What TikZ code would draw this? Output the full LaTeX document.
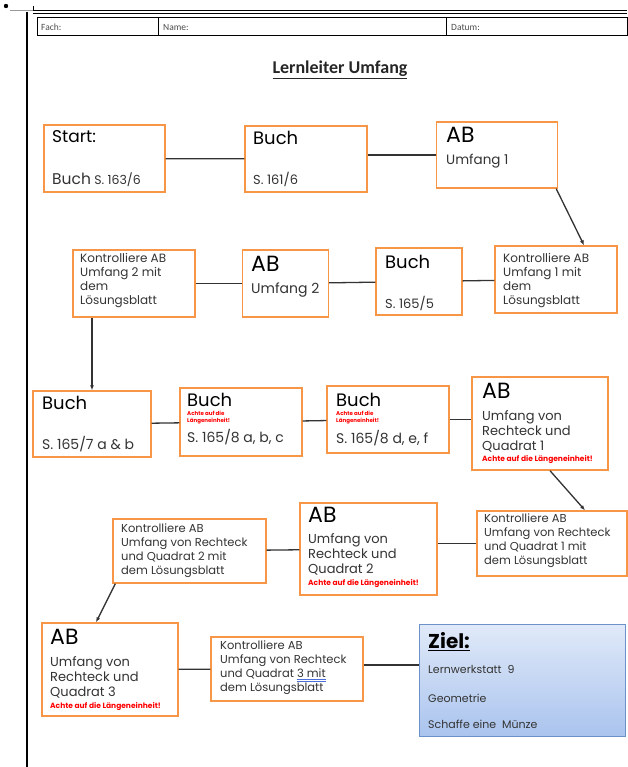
\documentclass[tikz,border=0pt]{standalone}
\usepackage{fontspec}
\setmainfont{Poppins}
\newfontfamily\calibri{Carlito}
\usetikzlibrary{arrows.meta}
\definecolor{boxorange}{HTML}{F79646}
\definecolor{goalblue}{HTML}{6D92C9}
\definecolor{goaltop}{HTML}{E0E9F8}
\definecolor{goalbottom}{HTML}{AAC4EE}
\definecolor{inkgray}{HTML}{333333}
\definecolor{markblue}{HTML}{4A6FD8}
\newcommand{\spellmark}[1]{\setbox0=\hbox{#1}\rlap{\color{markblue}\rule[-2pt]{\wd0}{0.6pt}}\rlap{\color{markblue}\rule[-3.6pt]{\wd0}{0.6pt}}\box0}
\begin{document}
\begin{tikzpicture}[
        x=1pt, y=-1pt,
        box/.style={draw=boxorange, line width=1.4pt, inner sep=0pt},
        goal/.style={draw=goalblue, line width=1pt, inner sep=0pt, top color=goaltop, bottom color=goalbottom},
        txt/.style={anchor=north west, inner sep=0pt, align=left, text=inkgray},
        hugetext/.style={txt, text=black, font=\fontsize{22}{22}\selectfont},
        bigtext/.style={txt, text=black, font=\fontsize{18}{18}\selectfont},
        midtext/.style={txt, font=\fontsize{13}{15}\selectfont},
        pagetext/.style={txt, anchor=base west, font=\fontsize{13}{13}\selectfont},
        smalltext/.style={txt, font=\fontsize{11.5}{14}\selectfont},
        warntext/.style={txt, text=red, font=\fontsize{5.5}{7}\selectfont\bfseries},
        headtext/.style={inner sep=0pt, anchor=west, font=\calibri\fontsize{9.5}{9.5}\selectfont, text=black!70},
        link/.style={draw=black!80, line width=1.3pt},
        forward/.style={link, -{Latex[length=5pt,width=4pt]}}
    ]
        \useasboundingbox (0,0) rectangle (627,767);
        % page frame and header
        \fill (6,6) circle (2.2);
        \coordinate (tick) at (33,10);
        \draw[black!40, line width=0.8pt] (10,10) -- (tick);
        \draw[line width=0.8pt] (33,6) -- (tick);
        \draw[line width=0.8pt] (tick) -- (627,10);
        \draw[line width=0.8pt] (33,13) -- (627,13);
        \draw[line width=1.4pt] (27,12) -- (27,767);
        \node[draw, line width=1pt, minimum width=590pt, minimum height=18pt, inner sep=0pt] (head) at (332.5,27) {};
        \draw[line width=1pt] (158,18) -- (158,36);
        \draw[line width=1pt] (446,18) -- (446,36);
        \node[headtext] (fach) at (41,27) {Fach:};
        \node[headtext] (name) at (163,27) {Name:};
        \node[headtext] (datum) at (451,27) {Datum:};
        \node[font=\calibri\bfseries\fontsize{18}{18}\selectfont, inner sep=0pt, text=black!85] (title) at (340,70) {\underline{Lernleiter Umfang}};
        % row 1
        \node[box, minimum width=121pt, minimum height=67pt] (start) at (104.5,158.5) {};
        \node[txt, text=black, font=\fontsize{17}{17}\selectfont] (startname) at (52,130) {Start:};
        \node[pagetext, font=\fontsize{12.5}{12.5}\selectfont] (startpage) at (52,185) {{\fontsize{15.5}{15.5}\selectfont Buch} S.~163/6};
        \node[box, minimum width=122pt, minimum height=66pt] (buch1) at (306,159) {};
        \node[bigtext] (buch1name) at (253,131) {Buch};
        \node[pagetext] (buch1page) at (253,185) {S.~161/6};
        \node[box, minimum width=121pt, minimum height=66pt] (ab1) at (497,155) {};
        \node[hugetext] (ab1name) at (446,127) {AB};
        \node[txt, font=\fontsize{13.5}{13.5}\selectfont] (ab1text) at (446,154) {Umfang 1};
        % row 2
        \node[box, minimum width=122pt, minimum height=67pt] (check1) at (556,279.5) {};
        \node[smalltext, font=\fontsize{12}{14}\selectfont] (check1text) at (503,253) {Kontrolliere AB\\Umfang 1 mit\\dem\\Lösungsblatt};
        \node[box, minimum width=86pt, minimum height=67pt] (buch2) at (419,281.5) {};
        \node[bigtext] (buch2name) at (385,255) {Buch};
        \node[pagetext] (buch2page) at (385,308) {S.~165/5};
        \node[box, minimum width=86pt, minimum height=67pt] (ab2) at (285.5,283.5) {};
        \node[hugetext] (ab2name) at (251,256) {AB};
        \node[txt, font=\fontsize{14}{14}\selectfont] (ab2text) at (251,283) {Umfang 2};
        \node[box, minimum width=122pt, minimum height=67pt] (check2) at (134,283.5) {};
        \node[smalltext, font=\fontsize{12}{14}\selectfont] (check2text) at (80,253) {Kontrolliere AB\\Umfang 2 mit\\dem\\Lösungsblatt};
        % row 3
        \node[box, minimum width=118pt, minimum height=66pt] (buch3) at (92,424) {};
        \node[bigtext] (buch3name) at (42,396) {Buch};
        \node[pagetext, font=\fontsize{14}{14}\selectfont] (buch3page) at (42,449) {S.~165/7 a \& b};
        \node[box, minimum width=122pt, minimum height=68pt] (buch4) at (241,422) {};
        \node[bigtext] (buch4name) at (187,393) {Buch};
        \node[warntext] (buch4warn) at (187,411) {Achte auf die\\Längeneinheit!};
        \node[pagetext, font=\fontsize{14}{14}\selectfont] (buch4page) at (187,442) {S.~165/8 a, b, c};
        \node[box, minimum width=122pt, minimum height=67pt] (buch5) at (388,419.5) {};
        \node[bigtext] (buch5name) at (336,393) {Buch};
        \node[warntext] (buch5warn) at (336,411) {Achte auf die\\Längeneinheit!};
        \node[pagetext, font=\fontsize{14}{14}\selectfont] (buch5page) at (336,443) {S.~165/8 d, e, f};
        \node[box, minimum width=136pt, minimum height=93pt] (ab3) at (540,423.5) {};
        \node[hugetext] (ab3name) at (482,383) {AB};
        \node[midtext] (ab3text) at (482,410) {Umfang von\\Rechteck und\\Quadrat 1};
        \node[warntext, anchor=base west, font=\fontsize{7.5}{7.5}\selectfont\bfseries] (ab3warn) at (482,461) {Achte auf die Längeneinheit!};
        % row 4
        \node[box, minimum width=150pt, minimum height=65pt] (check3) at (552,543.5) {};
        \node[smalltext] (check3text) at (484,514) {Kontrolliere AB\\Umfang von Rechteck\\und Quadrat 1 mit\\dem Lösungsblatt};
        \node[box, minimum width=137pt, minimum height=92pt] (ab4) at (368.5,549) {};
        \node[hugetext] (ab4name) at (308,507) {AB};
        \node[midtext] (ab4text) at (308,533) {Umfang von\\Rechteck und\\Quadrat 2};
        \node[warntext, anchor=base west, font=\fontsize{7.5}{7.5}\selectfont\bfseries] (ab4warn) at (308,585) {Achte auf die Längeneinheit!};
        \node[box, minimum width=153pt, minimum height=64pt] (check4) at (189.5,551) {};
        \node[smalltext] (check4text) at (121,524) {Kontrolliere AB\\Umfang von Rechteck\\und Quadrat 2 mit\\dem Lösungsblatt};
        % row 5
        \node[box, minimum width=136pt, minimum height=93pt] (ab5) at (110,669.5) {};
        \node[hugetext] (ab5name) at (50,629) {AB};
        \node[midtext] (ab5text) at (50,656) {Umfang von\\Rechteck und\\Quadrat 3};
        \node[warntext, anchor=base west, font=\fontsize{7.5}{7.5}\selectfont\bfseries] (ab5warn) at (50,708) {Achte auf die Längeneinheit!};
        \node[box, minimum width=152pt, minimum height=64pt] (check5) at (287,669) {};
        \node[smalltext] (check5text) at (220,641) {Kontrolliere AB\\Umfang von Rechteck\\und Quadrat \spellmark{3 mit}\\dem Lösungsblatt};
        \node[goal, minimum width=206pt, minimum height=112pt] (ziel) at (522,680.5) {};
        \node[txt, text=black, font=\fontsize{20}{20}\selectfont\bfseries] (zielname) at (428,632) {\underline{Ziel:}};
        \node[pagetext, font=\fontsize{11}{11}\selectfont] (zielwerk) at (428,673) {Lernwerkstatt\ \ 9};
        \node[pagetext, font=\fontsize{11}{11}\selectfont] (zielgeo) at (428,702) {Geometrie};
        \node[pagetext, font=\fontsize{11}{11}\selectfont] (zielmuenze) at (428,728) {Schaffe eine\ \ Münze};
        % connectors
        \draw[link] (start) -- (buch1);
        \draw[link] (buch1.east |- ab1) -- (ab1);
        \draw[forward] ([xshift=-2pt]ab1.south east) -- ([xshift=28pt]check1.north);
        \draw[link] (check1) -- (buch2);
        \draw[link] (buch2) -- (ab2);
        \draw[link] (ab2) -- (check2);
        \draw[forward] (check2.south -| buch3.north) -- (buch3.north);
        \draw[link] (buch3) -- (buch4);
        \draw[link] (buch4) -- (buch5);
        \draw[link] (buch5) -- (buch5 -| ab3.west);
        \draw[forward] ([xshift=10pt]ab3.south) -- ([xshift=33pt]check3.north);
        \draw[link] (check3) -- (check3 -| ab4.east);
        \draw[link] (ab4) -- (check4);
        \draw[forward] ([xshift=3pt]check4.south west) -- ([xshift=-14pt]ab5.north);
        \draw[link] (ab5) -- (check5);
        \draw[link] ([yshift=4pt]check5.east) -- ([yshift=4pt]check5.east -| ziel.west);
    \end{tikzpicture}
\end{document}
